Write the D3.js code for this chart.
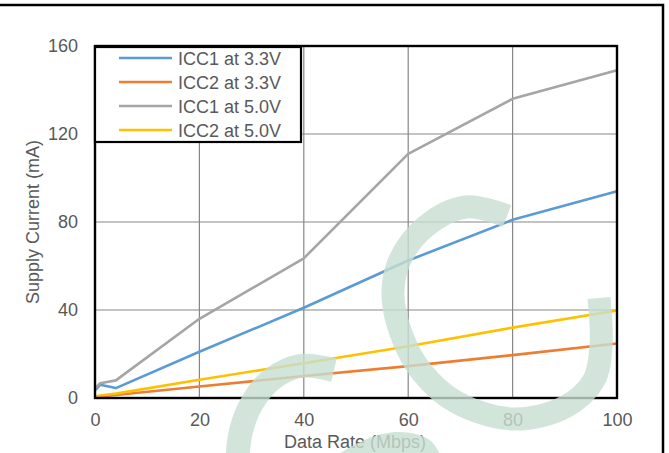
<!DOCTYPE html>
<html>
<head>
<meta charset="utf-8">
<script src="https://cdn.jsdelivr.net/npm/d3@7"></script>
<style>
  html, body { margin: 0; padding: 0; background: #fff; }
  svg { display: block; }
  text { font-family: "Liberation Sans", Arial, sans-serif; }
</style>
</head>
<body>
<svg id="chart" width="669" height="453"></svg>
<script>
// ---- data ----
const dataRates = [0, 1, 4, 20, 40, 60, 80, 100];
const icc1_33 = [3.5, 6, 4.5, 21, 41, 62.5, 81, 94];
const icc2_33 = [0.5, 0.7, 1.4, 5.2, 10, 14.5, 19.5, 24.8];
const icc1_50 = [4.4, 6.7, 8, 36, 63.5, 111, 136, 149];
const icc2_50 = [0.7, 1.1, 2, 8.3, 15.8, 23.5, 32, 39.8];
const seriesNames = ["ICC1 at 3.3V", "ICC2 at 3.3V", "ICC1 at 5.0V", "ICC2 at 5.0V"];
const seriesColors = ["#5B9BD5", "#ED7D31", "#A5A5A5", "#FFC000"];
const xTicks = [0, 20, 40, 60, 80, 100];
const yTicks = [0, 40, 80, 120, 160];
const xTitle = "Data Rate (Mbps)";
const yTitle = "Supply Current (mA)";

// decorative watermark outline (pixel space)
const wmBigC = [[507,216],[466,207],[425,227],[399,262],[393,296],[402,336],[421,371],[456,402],[513,419],[565,407],[594,380],[601,345],[599,298]];
const wmSmallC = [[334,370],[300,366],[272,379],[252,403],[241,431],[237,465]];
const wmBottom = [[336,456],[352,446],[372,437],[395,432],[416,434],[431,441],[441,456]];

const allSeries = [icc1_33, icc2_33, icc1_50, icc2_50];

const svg = d3.select("#chart");
const m = { left: 95, right: 617, top: 46, bottom: 398 };
const FS = 18;

const x = d3.scaleLinear().domain([0, 100]).range([m.left, m.right]);
const y = d3.scaleLinear().domain([0, 160]).range([m.bottom, m.top]);

// outer border
svg.append("rect").attr("x", -3).attr("y", 5).attr("width", 666).attr("height", 460)
  .attr("fill", "none").attr("stroke", "#000").attr("stroke-width", 2.5);

// grid
const gridG = svg.append("g");
gridG.selectAll("line.v").data(xTicks.slice(1, -1)).join("line")
  .attr("x1", d => x(d)).attr("x2", d => x(d))
  .attr("y1", m.top).attr("y2", m.bottom)
  .attr("stroke", "#878787").attr("stroke-width", 1.2);
gridG.selectAll("line.h").data(yTicks.slice(1, -1)).join("line")
  .attr("y1", d => y(d)).attr("y2", d => y(d))
  .attr("x1", m.left).attr("x2", m.right)
  .attr("stroke", "#878787").attr("stroke-width", 1.2);

// axes tick labels via d3 axes
const xAxis = d3.axisBottom(x).tickValues(xTicks).tickSize(0).tickPadding(15);
const gx = svg.append("g").attr("transform", `translate(0,${m.bottom})`).call(xAxis);
gx.select(".domain").remove();
gx.selectAll("text").attr("font-size", FS).attr("fill", "#595959")
  .attr("font-family", "Liberation Sans, Arial, sans-serif");

const yAxis = d3.axisLeft(y).tickValues(yTicks).tickSize(0).tickPadding(17);
const gy = svg.append("g").attr("transform", `translate(${m.left},0)`).call(yAxis);
gy.select(".domain").remove();
gy.selectAll("text").attr("font-size", FS).attr("fill", "#595959")
  .attr("font-family", "Liberation Sans, Arial, sans-serif");

// series lines
const line = d3.line().x((d, i) => x(dataRates[i])).y(d => y(d));
allSeries.forEach((s, k) => {
  svg.append("path").datum(s).attr("d", line)
    .attr("fill", "none").attr("stroke", seriesColors[k])
    .attr("stroke-width", 2.6).attr("stroke-linejoin", "round");
});

// plot frame
svg.append("rect").attr("x", m.left).attr("y", m.top)
  .attr("width", m.right - m.left).attr("height", m.bottom - m.top)
  .attr("fill", "none").attr("stroke", "#000").attr("stroke-width", 2.4);

// axis titles
svg.append("text").attr("x", 355).attr("y", 448).attr("text-anchor", "middle")
  .attr("font-size", FS).attr("fill", "#595959").text(xTitle);
svg.append("text").attr("transform", "translate(39,222) rotate(-90)")
  .attr("text-anchor", "middle").attr("font-size", FS).attr("fill", "#595959").text(yTitle);

// legend
const lg = svg.append("g");
lg.append("rect").attr("x", 95).attr("y", 47).attr("width", 206).attr("height", 95)
  .attr("fill", "#fff").attr("stroke", "#000").attr("stroke-width", 2.2);
seriesNames.forEach((n, i) => {
  const yy = 58 + i * 24;
  lg.append("line").attr("x1", 119).attr("x2", 172).attr("y1", yy).attr("y2", yy)
    .attr("stroke", seriesColors[i]).attr("stroke-width", 2.6);
  lg.append("text").attr("x", 178).attr("y", yy + 6.5).attr("font-size", FS)
    .attr("fill", "#595959").text(n);
});

// watermark overlay
const wm = svg.append("g").attr("opacity", 0.8);
const cl = d3.line().curve(d3.curveCatmullRom.alpha(0.5));
wm.append("path").attr("d", cl(wmBigC)).attr("fill", "none")
  .attr("stroke", "#c8dfd2").attr("stroke-width", 23).attr("stroke-linecap", "butt");
wm.append("path").attr("d", cl(wmSmallC)).attr("fill", "none")
  .attr("stroke", "#c8dfd2").attr("stroke-width", 24).attr("stroke-linecap", "butt");
wm.append("path").attr("d", d3.line().curve(d3.curveCatmullRom)(wmBottom) + "Z")
  .attr("fill", "#c8dfd2");
</script>
</body>
</html>
